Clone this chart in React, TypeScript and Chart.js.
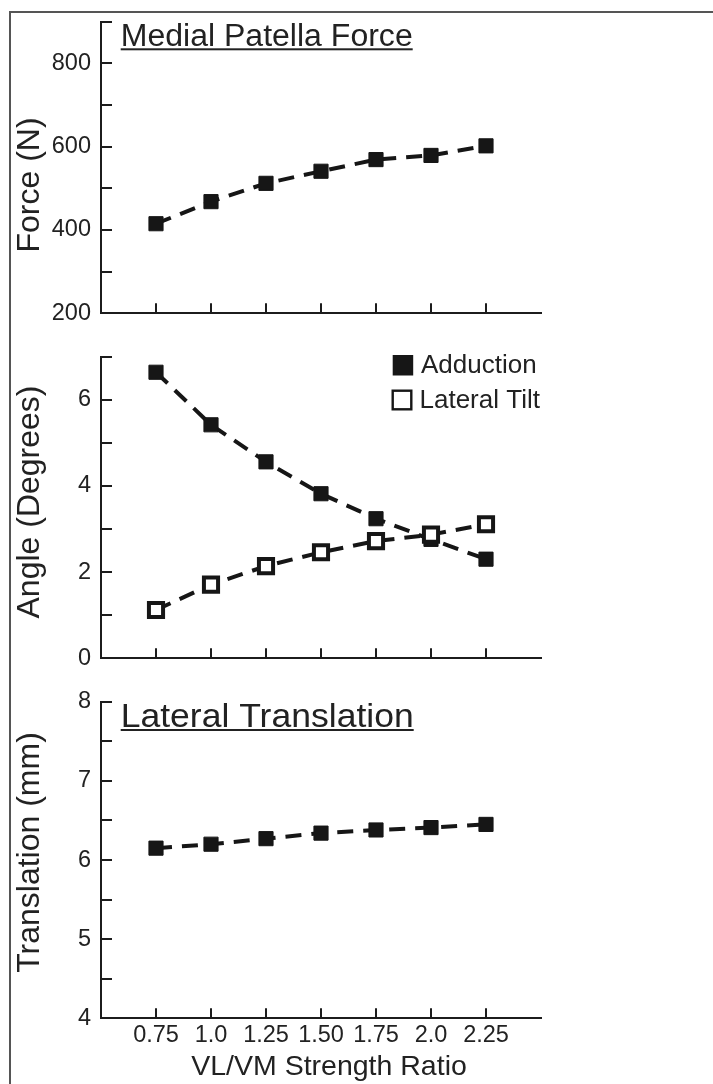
import React, { useEffect, useRef } from 'react';
import { Chart, registerables } from 'chart.js';

Chart.register(...registerables);

// ---------- data ----------
const strengthRatios = [0.75, 1.0, 1.25, 1.5, 1.75, 2.0, 2.25];
const ratioTickLabels = ['0.75', '1.0', '1.25', '1.50', '1.75', '2.0', '2.25'];

const medialForce = [415, 468, 512, 541, 569, 579, 602];
const forceTickLabels = [200, 400, 600, 800];

const adduction = [6.64, 5.42, 4.56, 3.82, 3.24, 2.76, 2.3];
const lateralTilt = [1.12, 1.71, 2.14, 2.46, 2.72, 2.87, 3.11];
const angleTickLabels = [0, 2, 4, 6];

const lateralTranslation = [6.15, 6.2, 6.27, 6.34, 6.38, 6.41, 6.45];
const translationTickLabels = [4, 5, 6, 7, 8];

// ---------- style ----------
const FONT = '"Liberation Sans", Arial, Helvetica, sans-serif';
const INK = '#161616';
const TEXT = '#222222';
const AXIS = '#1c1c1c';
const W = 713;
const AXIS_X = 101;
const RIGHT_PAD = 172;

const decorPlugin = {
  id: 'decor',
  beforeDatasetsDraw(chart: any) {
    const ctx = chart.ctx;
    const area = chart.chartArea;
    const xs = chart.scales.x;
    const ys = chart.scales.y;
    ctx.save();
    ctx.strokeStyle = AXIS;
    ctx.lineWidth = 2;
    ctx.beginPath();
    ys.ticks.forEach((t: any) => {
      const py = Math.round(ys.getPixelForValue(t.value));
      ctx.moveTo(area.left, py);
      ctx.lineTo(area.left + 11, py);
    });
    xs.ticks.forEach((t: any) => {
      const px = Math.round(xs.getPixelForValue(t.value));
      ctx.moveTo(px, area.bottom);
      ctx.lineTo(px, area.bottom - 10);
    });
    ctx.stroke();
    ctx.restore();
  },
  afterDraw(chart: any, _args: any, opts: any) {
    const ctx = chart.ctx;
    ctx.save();
    ctx.fillStyle = TEXT;
    if (opts.yTitle) {
      const t = opts.yTitle;
      ctx.save();
      ctx.font = `${t.size}px ${FONT}`;
      ctx.translate(t.x, t.y);
      ctx.rotate(-Math.PI / 2);
      ctx.textAlign = 'center';
      ctx.textBaseline = 'middle';
      ctx.fillText(t.text, 0, 0);
      ctx.restore();
    }
    if (opts.panelTitle) {
      const t = opts.panelTitle;
      ctx.save();
      ctx.font = `${t.size}px ${FONT}`;
      const mw = ctx.measureText(t.text).width;
      ctx.translate(t.left, t.baseline);
      ctx.scale(t.width / mw, 1);
      ctx.textAlign = 'left';
      ctx.textBaseline = 'alphabetic';
      ctx.fillText(t.text, 0, 0);
      ctx.restore();
      ctx.fillRect(t.left, t.underline - 1, t.width, 2);
    }
    if (opts.xTitle) {
      const t = opts.xTitle;
      ctx.font = `${t.size}px ${FONT}`;
      ctx.textAlign = 'center';
      ctx.textBaseline = 'middle';
      ctx.fillText(t.text, t.x, t.y);
    }
    if (opts.legend) {
      const L = opts.legend;
      chart.data.datasets.forEach((ds: any, i: number) => {
        const it = L.items[i];
        if (!it) return;
        const filled = ds.pointBackgroundColor !== '#ffffff';
        if (filled) {
          ctx.fillStyle = INK;
          ctx.fillRect(it.bx, it.by, it.bs, it.bs);
        } else {
          ctx.strokeStyle = INK;
          ctx.lineWidth = 2.4;
          ctx.strokeRect(it.bx + 1.2, it.by + 1.2, it.bs - 2.4, it.bs - 2.4);
        }
        ctx.fillStyle = TEXT;
        ctx.font = `${L.size}px ${FONT}`;
        ctx.textAlign = 'left';
        ctx.textBaseline = 'middle';
        ctx.fillText(ds.label, it.tx, it.ty);
      });
    }
    ctx.restore();
  },
};

function seriesDataset(label: string, values: number[], filled: boolean, order: number) {
  return {
    label,
    data: strengthRatios.map((x, i) => ({ x, y: values[i] })),
    borderColor: INK,
    borderWidth: 4,
    borderDash: [16, 10],
    fill: false,
    tension: 0,
    pointStyle: 'rect',
    pointRadius: 10,
    pointBackgroundColor: filled ? INK : '#ffffff',
    pointBorderColor: INK,
    pointBorderWidth: filled ? 1 : 4,
    order,
  };
}

function buildConfig(p: any) {
  return {
    type: 'line',
    data: { datasets: p.datasets },
    plugins: [decorPlugin],
    options: {
      responsive: false,
      maintainAspectRatio: false,
      animation: false,
      events: [],
      layout: { padding: { left: 0, right: RIGHT_PAD, top: p.areaTop, bottom: 0 } },
      plugins: {
        legend: { display: false },
        tooltip: { enabled: false },
        decor: p.decor,
      },
      scales: {
        x: {
          type: 'linear',
          min: 0.5,
          max: 2.5,
          afterBuildTicks: (s: any) => {
            s.ticks = strengthRatios.map((v) => ({ value: v }));
          },
          afterFit: (s: any) => {
            s.height = p.xAxisHeight;
          },
          grid: { display: false, drawTicks: false },
          border: { display: true, color: AXIS, width: 2 },
          ticks: {
            display: p.showXLabels,
            autoSkip: false,
            maxRotation: 0,
            padding: 5,
            color: TEXT,
            font: { family: FONT, size: 23.5, lineHeight: 1 },
            callback: (_v: any, i: number) => ratioTickLabels[i],
          },
        },
        y: {
          type: 'linear',
          min: p.yMin,
          max: p.yMax,
          afterFit: (s: any) => {
            s.width = AXIS_X;
          },
          grid: { display: false, drawTicks: false },
          border: { display: true, color: AXIS, width: 2 },
          ticks: {
            stepSize: p.yStep,
            autoSkip: false,
            padding: 10,
            color: TEXT,
            font: { family: FONT, size: 23.5, lineHeight: 1 },
            callback: (v: any) => (p.yLabels.includes(v) ? String(v) : ''),
          },
        },
      },
    },
  };
}

function Panel({ top, height, make }: { top: number; height: number; make: () => any }) {
  const ref = useRef<HTMLCanvasElement>(null);
  useEffect(() => {
    const chart = new Chart(ref.current as HTMLCanvasElement, make());
    return () => chart.destroy();
  }, []);
  return (
    <canvas
      ref={ref}
      width={W}
      height={height}
      style={{ position: 'absolute', left: 0, top, width: W, height, display: 'block' }}
    />
  );
}

const forceConfig = () =>
  buildConfig({
    datasets: [seriesDataset('Medial Patella Force', medialForce, true, 1)],
    yMin: 200,
    yMax: 900,
    yStep: 100,
    yLabels: forceTickLabels,
    showXLabels: false,
    areaTop: 16.5,
    xAxisHeight: 13.3,
    decor: {
      yTitle: { text: 'Force (N)', x: 30, y: 185, size: 32 },
      panelTitle: { text: 'Medial Patella Force', left: 120.7, baseline: 45.7, width: 292, size: 31, underline: 49.3 },
    },
  });

const angleConfig = () =>
  buildConfig({
    datasets: [
      seriesDataset('Adduction', adduction, true, 2),
      seriesDataset('Lateral Tilt', lateralTilt, false, 1),
    ],
    yMin: 0,
    yMax: 7,
    yStep: 1,
    yLabels: angleTickLabels,
    showXLabels: false,
    areaTop: 16.7,
    xAxisHeight: 14.3,
    decor: {
      yTitle: { text: 'Angle (Degrees)', x: 30, y: 167, size: 32 },
      legend: {
        size: 26,
        items: [
          { bx: 392.7, by: 20, bs: 20.5, tx: 421, ty: 30.5 },
          { bx: 391.5, by: 54.5, bs: 21, tx: 419.5, ty: 65.5 },
        ],
      },
    },
  });

const translationConfig = () =>
  buildConfig({
    datasets: [seriesDataset('Lateral Translation', lateralTranslation, true, 1)],
    yMin: 4,
    yMax: 8,
    yStep: 0.5,
    yLabels: translationTickLabels,
    showXLabels: true,
    areaTop: 20,
    xAxisHeight: 65.7,
    decor: {
      yTitle: { text: 'Translation (mm)', x: 30, y: 172.5, size: 32 },
      panelTitle: { text: 'Lateral Translation', left: 120.7, baseline: 46.7, width: 293, size: 33.5, underline: 50 },
      xTitle: { text: 'VL/VM Strength Ratio', x: 329, y: 386.7, size: 28.5 },
    },
  });

export default function App() {
  return (
    <div style={{ position: 'absolute', left: 0, top: 0, width: W, height: 1084, background: '#ffffff', overflow: 'hidden' }}>
      <div
        style={{
          position: 'absolute',
          left: 9,
          top: 11,
          width: W,
          height: 1100,
          borderLeft: '2px solid #555',
          borderTop: '2px solid #555',
        }}
      />
      <Panel top={0} height={335} make={forceConfig} />
      <Panel top={335} height={345} make={angleConfig} />
      <Panel top={680} height={404} make={translationConfig} />
    </div>
  );
}
